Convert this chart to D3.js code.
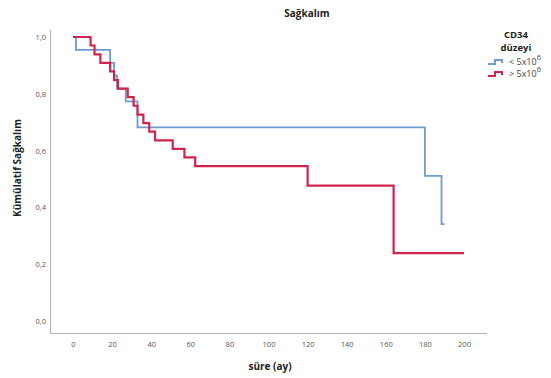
<!DOCTYPE html>
<html><head><meta charset="utf-8">
<script src="https://cdn.jsdelivr.net/npm/d3@7"></script>
<style>body{margin:0;background:#fff}svg{display:block}text{font-family:"Open Sans","Noto Sans",sans-serif}</style>
</head><body>
<svg id="c" width="551" height="378"></svg>
<script>
const title = "Sağkalım";
const xTitle = "süre (ay)";
const yTitle = "Kümülatif Sağkalım";
const legendTitle = ["CD34", "düzeyi"];
const seriesNames = ["< 5x10", "> 5x10"];
const xTicks = [0,20,40,60,80,100,120,140,160,180,200];
const yTicks = [0,0.2,0.4,0.6,0.8,1.0];
// step points: [time, survival after step]
const lowTimes = [0, 1.5, 19, 21, 22.5, 27, 33, 180, 188.5, 190];
const lowSurv  = [1, 0.955, 0.909, 0.864, 0.818, 0.773, 0.682, 0.511, 0.341, 0.341];
const highTimes = [0, 9, 11, 14, 19, 21, 23, 28, 31, 33, 36, 39, 42, 51, 57, 62.5, 120, 164, 200];
const highSurv  = [1, 0.970, 0.939, 0.909, 0.879, 0.848, 0.818, 0.788, 0.758, 0.727, 0.697, 0.667, 0.636, 0.606, 0.576, 0.545, 0.477, 0.239, 0.239];
const colors = ["#6e9bd0", "#d2234c"];

const svg = d3.select("#c");
const x = d3.scaleLinear().domain([0,200]).range([73,464]);
const y = d3.scaleLinear().domain([0,1]).range([321,37]);

svg.append("line").attr("x1",50.5).attr("x2",50.5).attr("y1",30).attr("y2",333).attr("stroke","#b8b8b8").attr("stroke-width",1.2);
svg.append("line").attr("x1",50).attr("x2",487).attr("y1",333.5).attr("y2",333.5).attr("stroke","#b8b8b8").attr("stroke-width",1.2);

const xa = svg.append("g").attr("transform","translate(0,333)")
  .call(d3.axisBottom(x).tickValues(xTicks).tickSize(0).tickPadding(9).tickFormat(d3.format("d")));
xa.select(".domain").remove();
xa.selectAll("text").attr("fill","#555").style("font-size","7.5px");

const fmt = d => d3.format(".1f")(d).replace(".", ",");
const ya = svg.append("g").attr("transform","translate(47,0)")
  .call(d3.axisLeft(y).tickValues(yTicks).tickSize(0).tickPadding(1).tickFormat(fmt));
ya.select(".domain").remove();
ya.selectAll("text").attr("fill","#555").style("font-size","7.5px");

const line = d3.line().x(d=>x(d[0])).y(d=>y(d[1])).curve(d3.curveStepAfter);
const series = [d3.zip(lowTimes, lowSurv), d3.zip(highTimes, highSurv)];
series.forEach((s,i)=>{
  svg.append("path").datum(s).attr("d",line).attr("fill","none")
    .attr("stroke",colors[i]).attr("stroke-width", i===1?2.2:1.8);
});

svg.append("text").attr("x",307).attr("y",17).attr("text-anchor","middle")
  .style("font-size","10px").style("font-weight","bold").attr("fill","#222").text(title);
svg.append("text").attr("x",270).attr("y",370).attr("text-anchor","middle")
  .style("font-size","10px").style("font-weight","bold").attr("fill","#222").text(xTitle);
svg.append("text").attr("transform","translate(21,168) rotate(-90)").attr("text-anchor","middle")
  .style("font-size","10px").style("font-weight","bold").attr("fill","#222").text(yTitle);

legendTitle.forEach((t,i)=>{
  svg.append("text").attr("x",516).attr("y",38+i*13).attr("text-anchor","middle")
    .style("font-size","9.5px").style("font-weight","bold").attr("fill","#222").text(t);
});
seriesNames.forEach((n,i)=>{
  const ly = 64 + i*12;
  const sym = [[488,0],[495,0],[495,-4],[502,-4],[502,-1]];
  svg.append("path").attr("d", d3.line()(sym.map(p=>[p[0], ly+p[1]])))
    .attr("fill","none").attr("stroke",colors[i]).attr("stroke-width",2);
  const t = svg.append("text").attr("x",509).attr("y",ly+1).style("font-size","9px").attr("fill","#444");
  t.append("tspan").text(n);
  t.append("tspan").attr("dy",-5).style("font-size","7.5px").text("6");
});
</script>
</body></html>
